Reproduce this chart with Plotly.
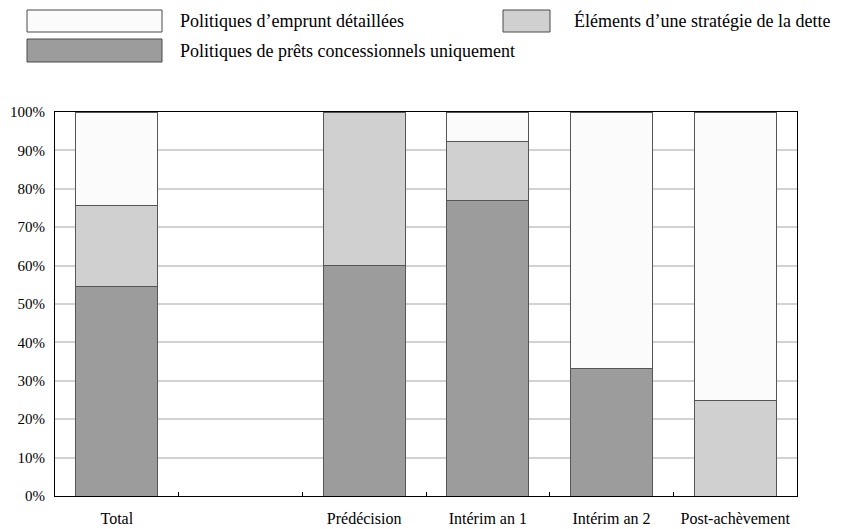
import plotly.graph_objects as go

# Stages (a blank slot separates the total from the individual stages)
categories = ["Total", " ", "Prédécision", "Intérim an 1", "Intérim an 2", "Post-achèvement"]

# Shares of countries by type of borrowing policy (fractions of 1)
concessional_only = [0.545, None, 0.60, 0.769, 0.333, 0.0]
debt_strategy = [0.212, None, 0.40, 0.154, 0.0, 0.25]
detailed_borrowing = [0.243, None, 0.0, 0.077, 0.667, 0.75]

series_names = [
    "Politiques de prêts concessionnels uniquement",
    "Éléments d’une stratégie de la dette",
    "Politiques d’emprunt détaillées",
]
series_colors = ["#9c9c9c", "#d0d0d0", "#fbfbfb"]

W, H = 841, 529
ML, MR, MT, MB = 55, 44, 112, 33
FONT = "Times New Roman, Liberation Serif, serif"

fig = go.Figure()
for vals, name, color in zip(
    [concessional_only, debt_strategy, detailed_borrowing], series_names, series_colors
):
    fig.add_trace(
        go.Bar(
            x=categories,
            y=vals,
            name=name,
            marker=dict(color=color, line=dict(color="#555555", width=1)),
            showlegend=False,
        )
    )


def px_x(px):
    return (px - ML) / (W - ML - MR)


def px_y(py):
    return (H - MB - py) / (H - MT - MB)


# Hand-drawn legend above the plot area: (color, label, box x0, x1, y0, y1, text x)
legend_items = [
    (series_colors[2], series_names[2], 27, 162, 10, 32, 178),
    (series_colors[1], series_names[1], 503, 550, 10, 32, 572),
    (series_colors[0], series_names[0], 27, 162, 39, 62, 178),
]
shapes = []
annotations = []
for color, label, x0, x1, y0, y1, tx in legend_items:
    shapes.append(
        dict(
            type="rect", xref="paper", yref="paper",
            x0=px_x(x0), x1=px_x(x1), y0=px_y(y1), y1=px_y(y0),
            fillcolor=color, line=dict(color="#4a4a4a", width=1),
        )
    )
    annotations.append(
        dict(
            xref="paper", yref="paper", x=px_x(tx), y=px_y((y0 + y1) / 2),
            text=label, showarrow=False, xanchor="left", yanchor="middle",
            font=dict(family=FONT, size=18, color="black"),
        )
    )

fig.update_layout(
    width=W,
    height=H,
    margin=dict(l=ML, r=MR, t=MT, b=MB, autoexpand=False),
    barmode="stack",
    bargap=0.335,
    plot_bgcolor="white",
    paper_bgcolor="white",
    font=dict(family=FONT, size=15, color="black"),
    shapes=shapes,
    annotations=annotations,
)
fig.update_xaxes(
    type="category",
    tickson="boundaries",
    ticks="inside",
    ticklen=4,
    tickcolor="black",
    showline=True,
    linecolor="black",
    linewidth=1,
    mirror=True,
    showgrid=False,
    automargin=False,
    ticklabelstandoff=8,
    tickfont=dict(family=FONT, size=16),
)
fig.update_yaxes(
    range=[0, 1],
    dtick=0.1,
    tickformat=".0%",
    showgrid=True,
    gridcolor="#d2d2d2",
    gridwidth=1.5,
    showline=True,
    linecolor="black",
    linewidth=1,
    mirror=True,
    zeroline=False,
    automargin=False,
    ticks="",
    ticklabelstandoff=6,
    tickfont=dict(family=FONT, size=15),
)

fig.write_html("out.html")
